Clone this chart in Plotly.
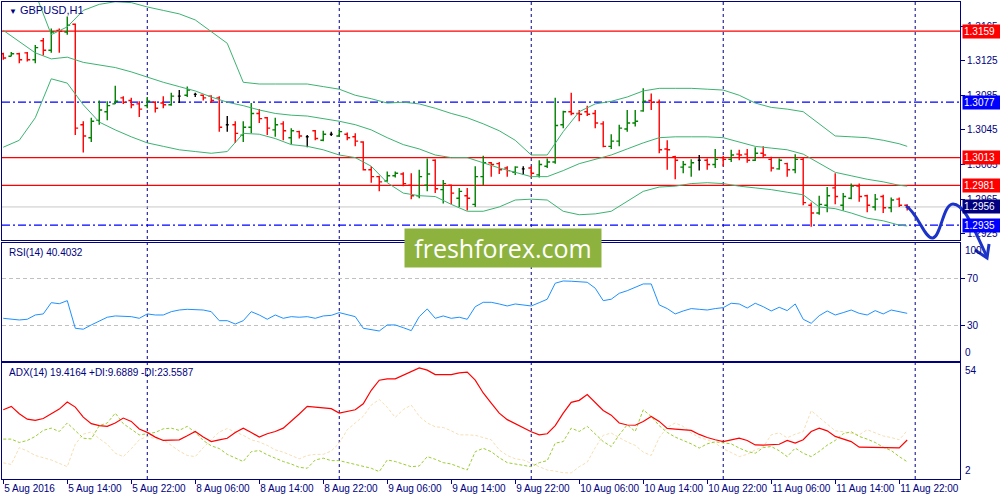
import pandas as pd
import plotly.graph_objects as go

NAVY = "#000080"
FONT = "Liberation Sans, Arial, sans-serif"

# ---------------- data ----------------
symbol_title = "GBPUSD,H1"
rsi_title = "RSI(14) 40.4032"
adx_title = "ADX(14) 19.4164 +DI:9.6889 -DI:23.5587"
watermark = "freshforex.com"

x_tick_labels = ["5 Aug 2016", "5 Aug 14:00", "5 Aug 22:00", "8 Aug 06:00", "8 Aug 14:00",
                 "8 Aug 22:00", "9 Aug 06:00", "9 Aug 14:00", "9 Aug 22:00", "10 Aug 06:00",
                 "10 Aug 14:00", "10 Aug 22:00", "11 Aug 06:00", "11 Aug 14:00", "11 Aug 22:00"]
price_ticks = [1.3165, 1.3125, 1.3085, 1.3045, 1.3005, 1.2965, 1.2925]
rsi_ticks = [70, 30]

open_ = [1.3133, 1.3130, 1.3133, 1.3134, 1.3126, 1.3148, 1.3137, 1.3160, 1.3158, 1.3167,
         1.3051, 1.3036, 1.3056, 1.3066, 1.3075, 1.3082, 1.3079, 1.3075, 1.3073, 1.3077,
         1.3076, 1.3074, 1.3084, 1.3085, 1.3086, 1.3085, 1.3084, 1.3082, 1.3051, 1.3051,
         1.3039, 1.3048, 1.3064, 1.3059, 1.3045, 1.3052, 1.3036, 1.3043, 1.3037, 1.3044,
         1.3033, 1.3040, 1.3038, 1.3040, 1.3037, 1.3031, 1.2999, 1.2991, 1.2986, 1.2992,
         1.2994, 1.2981, 1.2969, 1.2981, 1.3010, 1.2976, 1.2981, 1.2966, 1.2969, 1.2959,
         1.2991, 1.3007, 1.3006, 1.3001, 1.2996, 1.3000, 1.3001, 1.2993, 1.3003, 1.3008,
         1.3051, 1.3066, 1.3064, 1.3066, 1.3064, 1.3052, 1.3026, 1.3032, 1.3046, 1.3053,
         1.3067, 1.3079, 1.3077, 1.3023, 1.3014, 1.3002, 1.3002, 1.3010, 1.3010, 1.3005,
         1.3013, 1.3011, 1.3017, 1.3017, 1.3010, 1.3018, 1.3011, 1.3000, 1.3006, 1.2999,
         1.3011, 1.2958, 1.2949, 1.2958, 1.2978, 1.2958, 1.2966, 1.2980, 1.2969, 1.2956,
         1.2968, 1.2955, 1.2965, 1.2958]
high = [1.3134, 1.3135, 1.3134, 1.3135, 1.3143, 1.3151, 1.3162, 1.3162, 1.3176, 1.3168,
        1.3055, 1.3059, 1.3079, 1.3078, 1.3096, 1.3084, 1.3082, 1.3078, 1.3083, 1.3078,
        1.3084, 1.3088, 1.3091, 1.3095, 1.3088, 1.3086, 1.3085, 1.3084, 1.3061, 1.3055,
        1.3055, 1.3076, 1.3069, 1.3060, 1.3059, 1.3055, 1.3047, 1.3044, 1.3039, 1.3045,
        1.3044, 1.3043, 1.3045, 1.3042, 1.3041, 1.3032, 1.3003, 1.2992, 1.2997, 1.2997,
        1.2996, 1.2995, 1.2999, 1.3012, 1.3011, 1.2987, 1.2982, 1.2978, 1.2978, 1.3003,
        1.3015, 1.3008, 1.3008, 1.3003, 1.3003, 1.3003, 1.3003, 1.3010, 1.3012, 1.3082,
        1.3067, 1.3088, 1.3068, 1.3073, 1.3068, 1.3055, 1.3040, 1.3051, 1.3068, 1.3068,
        1.3093, 1.3087, 1.3080, 1.3033, 1.3015, 1.3009, 1.3011, 1.3016, 1.3012, 1.3023,
        1.3015, 1.3022, 1.3022, 1.3023, 1.3025, 1.3026, 1.3014, 1.3012, 1.3007, 1.3017,
        1.3013, 1.2961, 1.2969, 1.2979, 1.2995, 1.2972, 1.2983, 1.2983, 1.2970, 1.2971,
        1.2970, 1.2967, 1.2967, 1.2959]
low = [1.3126, 1.3130, 1.3122, 1.3124, 1.3122, 1.3131, 1.3134, 1.3134, 1.3155, 1.3039,
       1.3019, 1.3031, 1.3051, 1.3056, 1.3075, 1.3075, 1.3070, 1.3060, 1.3070, 1.3065,
       1.3070, 1.3073, 1.3076, 1.3083, 1.3083, 1.3079, 1.3076, 1.3043, 1.3043, 1.3030,
       1.3031, 1.3041, 1.3053, 1.3039, 1.3037, 1.3033, 1.3028, 1.3035, 1.3025, 1.3033,
       1.3032, 1.3038, 1.3037, 1.3033, 1.3026, 1.2998, 1.2984, 1.2974, 1.2985, 1.2990,
       1.2980, 1.2965, 1.2966, 1.2974, 1.2972, 1.2960, 1.2959, 1.2956, 1.2952, 1.2956,
       1.2981, 1.2991, 1.2994, 1.2991, 1.2993, 1.2993, 1.2990, 1.2990, 1.3001, 1.3006,
       1.3047, 1.3062, 1.3055, 1.3061, 1.3047, 1.3025, 1.3023, 1.3026, 1.3043, 1.3049,
       1.3066, 1.3068, 1.3018, 1.2999, 1.2988, 1.2995, 1.2991, 1.2998, 1.2999, 1.3001,
       1.3003, 1.3008, 1.3010, 1.3007, 1.3009, 1.3013, 1.2997, 1.2999, 1.2991, 1.2995,
       1.2958, 1.2933, 1.2947, 1.2950, 1.2959, 1.2952, 1.2965, 1.2962, 1.2950, 1.2952,
       1.2949, 1.2950, 1.2956, 1.2952]
close = [1.3128, 1.3133, 1.3126, 1.3126, 1.3140, 1.3137, 1.3158, 1.3159, 1.3166, 1.3047,
         1.3038, 1.3055, 1.3068, 1.3073, 1.3078, 1.3077, 1.3074, 1.3069, 1.3078, 1.3070,
         1.3074, 1.3084, 1.3084, 1.3091, 1.3086, 1.3082, 1.3079, 1.3048, 1.3051, 1.3041,
         1.3048, 1.3064, 1.3058, 1.3047, 1.3051, 1.3044, 1.3044, 1.3038, 1.3037, 1.3035,
         1.3040, 1.3040, 1.3043, 1.3036, 1.3032, 1.2999, 1.2991, 1.2985, 1.2992, 1.2995,
         1.2983, 1.2969, 1.2991, 1.2994, 1.2977, 1.2983, 1.2972, 1.2974, 1.2966, 1.2991,
         1.3007, 1.3005, 1.2999, 1.2998, 1.3002, 1.3000, 1.2995, 1.3005, 1.3008, 1.3050,
         1.3066, 1.3064, 1.3063, 1.3063, 1.3053, 1.3026, 1.3032, 1.3047, 1.3053, 1.3055,
         1.3078, 1.3077, 1.3022, 1.3022, 1.3010, 1.3005, 1.3007, 1.3010, 1.3005, 1.3011,
         1.3011, 1.3016, 1.3016, 1.3010, 1.3018, 1.3016, 1.3001, 1.3010, 1.2999, 1.3011,
         1.2961, 1.2949, 1.2959, 1.2969, 1.2968, 1.2968, 1.2980, 1.2968, 1.2958, 1.2965,
         1.2955, 1.2964, 1.2958, 1.2956]

# Bollinger bands, read every second bar (and the last bar)
bb_upper = [1.3296, 1.3260, 1.3203, 1.3155, 1.3164, 1.3183, 1.3190, 1.3193, 1.3192, 1.3187,
            1.3183, 1.3179, 1.3172, 1.3159, 1.3145, 1.3100, 1.3098, 1.3098, 1.3098, 1.3098,
            1.3095, 1.3092, 1.3085, 1.3081, 1.3076, 1.3077, 1.3075, 1.3070, 1.3064, 1.3059,
            1.3052, 1.3044, 1.3033, 1.3016, 1.3016, 1.3043, 1.3066, 1.3075, 1.3078, 1.3083,
            1.3090, 1.3093, 1.3093, 1.3093, 1.3092, 1.3091, 1.3085, 1.3076, 1.3071, 1.3069,
            1.3066, 1.3052, 1.3038, 1.3037, 1.3036, 1.3033, 1.3029, 1.3026]
bb_mid = [1.3160, 1.3147, 1.3134, 1.3127, 1.3129, 1.3123, 1.3120, 1.3117, 1.3112, 1.3106,
          1.3100, 1.3095, 1.3090, 1.3083, 1.3077, 1.3073, 1.3068, 1.3064, 1.3062, 1.3061,
          1.3058, 1.3055, 1.3051, 1.3045, 1.3036, 1.3028, 1.3023, 1.3016, 1.3013, 1.3013,
          1.3007, 1.3001, 1.2996, 1.2991, 1.2991, 1.2998, 1.3006, 1.3011, 1.3016, 1.3023,
          1.3030, 1.3036, 1.3037, 1.3037, 1.3037, 1.3036, 1.3031, 1.3026, 1.3024, 1.3022,
          1.3017, 1.3006, 1.2996, 1.2992, 1.2988, 1.2985, 1.2981, 1.2980]
bb_lower = [1.3025, 1.3033, 1.3059, 1.3104, 1.3099, 1.3074, 1.3054, 1.3045, 1.3037, 1.3030,
            1.3026, 1.3022, 1.3020, 1.3018, 1.3020, 1.3041, 1.3040, 1.3035, 1.3028, 1.3026,
            1.3022, 1.3016, 1.3013, 1.3003, 1.2984, 1.2972, 1.2969, 1.2968, 1.2959, 1.2951,
            1.2951, 1.2956, 1.2964, 1.2965, 1.2964, 1.2951, 1.2947, 1.2948, 1.2951, 1.2963,
            1.2974, 1.2979, 1.2980, 1.2983, 1.2984, 1.2983, 1.2980, 1.2978, 1.2976, 1.2973,
            1.2970, 1.2956, 1.2954, 1.2949, 1.2943, 1.2940, 1.2935, 1.2934]

rsi = [36.2, 35.4, 34.8, 35.4, 39.0, 39.9, 49.4, 48.5, 51.1, 27.8,
       27.0, 30.6, 34.2, 37.1, 38.2, 38.2, 37.6, 36.2, 39.9, 39.0,
       39.0, 41.8, 43.2, 43.8, 43.2, 43.2, 41.8, 34.2, 34.2, 31.4,
       34.2, 41.8, 39.0, 35.4, 39.0, 36.2, 37.6, 37.1, 37.6, 36.2,
       38.2, 38.7, 41.0, 39.0, 37.6, 27.8, 26.4, 25.5, 30.6, 30.6,
       28.3, 25.8, 37.6, 44.1, 36.2, 38.2, 36.2, 37.1, 35.4, 46.0,
       49.7, 49.7, 48.3, 46.6, 48.3, 47.7, 46.6, 49.4, 52.3, 65.8,
       67.7, 67.5, 67.2, 66.6, 61.6, 51.1, 52.3, 57.3, 59.5, 62.1,
       65.2, 65.2, 47.5, 44.4, 39.9, 42.4, 44.4, 43.8, 43.2, 44.4,
       45.2, 48.9, 48.3, 44.9, 48.9, 46.0, 42.4, 45.5, 42.7, 48.3,
       35.4, 32.0, 38.4, 42.4, 39.0, 41.0, 43.2, 40.4, 39.0, 42.7,
       39.9, 43.2, 41.8, 40.4]
adx = [32.9, 34.4, 31.1, 28.7, 28.2, 29.0, 31.1, 33.2, 36.4, 34.1,
       29.6, 26.7, 25.8, 25.5, 27.0, 29.2, 27.7, 24.3, 22.8, 20.7,
       19.2, 19.2, 19.5, 21.3, 23.2, 20.7, 18.7, 19.5, 20.2, 22.8,
       24.7, 22.8, 20.7, 22.2, 23.2, 24.7, 27.7, 31.0, 34.4, 34.0,
       33.7, 33.4, 31.4, 32.0, 32.9, 35.6, 41.6, 46.1, 46.7, 46.7,
       48.3, 50.1, 51.6, 50.6, 48.6, 48.6, 48.6, 49.4, 49.7, 46.1,
       40.4, 35.9, 31.4, 28.5, 26.7, 25.2, 23.1, 21.7, 22.2, 25.8,
       31.4, 36.2, 37.1, 39.7, 36.2, 32.6, 30.5, 27.0, 26.1, 26.0,
       27.7, 29.9, 27.7, 24.6, 24.3, 24.0, 23.7, 21.9, 20.5, 19.5,
       18.7, 19.5, 20.2, 19.2, 17.2, 17.1, 17.2, 17.5, 19.2, 18.0,
       19.5, 23.2, 24.7, 23.5, 21.0, 19.8, 18.7, 16.2, 16.1, 15.9,
       15.9, 15.9, 15.9, 19.4]
plus_di = [19.8, 19.8, 18.3, 19.2, 21.0, 23.7, 24.7, 23.2, 27.0, 23.7,
           20.2, 19.9, 25.8, 27.0, 31.4, 26.7, 24.4, 21.7, 22.2, 22.8,
           24.4, 24.7, 23.7, 25.5, 22.8, 19.2, 16.8, 15.6, 13.0, 11.3,
           9.8, 14.2, 14.7, 12.8, 11.3, 9.8, 8.7, 7.2, 6.8, 10.5,
           11.3, 10.2, 10.2, 9.3, 8.3, 7.5, 6.8, 5.3, 10.5, 9.8,
           8.7, 7.5, 7.8, 12.0, 10.8, 9.3, 8.7, 7.2, 6.0, 14.2,
           15.7, 14.2, 11.5, 9.3, 8.7, 8.1, 7.5, 9.3, 10.2, 18.0,
           18.7, 24.7, 23.2, 25.5, 22.2, 18.7, 16.5, 21.7, 26.2, 23.2,
           32.9, 29.9, 25.8, 22.8, 20.7, 19.2, 17.7, 15.8, 17.7, 18.6,
           18.3, 17.7, 15.8, 14.3, 13.5, 16.0, 16.5, 14.6, 12.0, 15.8,
           13.5, 12.0, 14.3, 17.1, 19.2, 22.2, 23.1, 21.0, 19.8, 18.3,
           16.2, 14.7, 12.0, 9.7]
minus_di = [9.2, 8.5, 16.0, 14.5, 12.5, 11.5, 10.5, 9.0, 7.5, 17.5,
            22.0, 23.0, 20.0, 17.5, 13.5, 12.0, 15.5, 19.5, 21.0, 20.0,
            19.5, 17.0, 14.5, 12.5, 12.0, 16.0, 19.5, 23.0, 24.5, 23.0,
            21.5, 19.5, 18.5, 17.0, 15.0, 14.0, 12.5, 11.0, 12.5, 13.0,
            13.0, 14.5, 18.0, 24.0, 27.0, 30.0, 35.0, 37.5, 34.0, 29.5,
            33.0, 35.0, 30.0, 27.0, 25.3, 25.0, 23.5, 21.7, 21.7, 21.5,
            20.5, 19.5, 15.0, 12.5, 11.0, 10.5, 9.0, 7.4, 6.0, 5.5,
            4.8, 4.7, 7.5, 9.5, 16.0, 21.5, 22.5, 20.5, 18.5, 17.0,
            14.0, 12.5, 20.5, 25.0, 27.0, 25.5, 22.5, 20.5, 19.5, 18.0,
            15.5, 13.8, 12.0, 13.0, 15.0, 16.3, 21.7, 22.6, 20.4, 22.0,
            23.1, 32.5, 29.5, 26.5, 23.5, 23.1, 22.5, 21.7, 24.0, 22.5,
            21.2, 20.5, 19.5, 23.6]

red_levels = [1.3159, 1.3013, 1.2981]
blue_levels = [1.3077, 1.2935]

# ---------------- derived ----------------
all_hours = pd.date_range("2016-08-05 06:00", "2016-08-12 23:00", freq="h")
bar_times = all_hours[all_hours.dayofweek < 5]
n = len(close)
bars = list(range(n))
bb_x = list(range(0, n - 1, 2)) + [n - 1]
x_tick_pos = [k for k in range(n) if k % 8 == 0]
X_MAX = 119.6
day_starts = [k for k, t in enumerate(bar_times) if t.hour == 0 and k < X_MAX]
bid = close[-1]

up = [i for i in bars if close[i] > open_[i]]
down = [i for i in bars if close[i] < open_[i]]
doji = [i for i in bars if close[i] == open_[i]]

fig = go.Figure()

BB_COLOR = "#3CB371"
for band in (bb_upper, bb_mid, bb_lower):
    fig.add_trace(go.Scatter(x=bb_x, y=band, mode="lines", line=dict(color=BB_COLOR, width=1),
                             xaxis="x", yaxis="y", hoverinfo="skip", showlegend=False))


def ohlc(idx, color, tw):
    return go.Ohlc(x=idx, open=[open_[i] for i in idx], high=[high[i] for i in idx],
                   low=[low[i] for i in idx], close=[close[i] for i in idx],
                   increasing=dict(line=dict(color=color, width=1.4)),
                   decreasing=dict(line=dict(color=color, width=1.4)),
                   tickwidth=tw, xaxis="x", yaxis="y", hoverinfo="skip", showlegend=False)


fig.add_trace(ohlc(up, "#008000", 0.36))
fig.add_trace(ohlc(down, "#FF0000", 0.36))
fig.add_trace(ohlc(doji, "#000000", 0.18))

fig.add_trace(go.Scatter(x=bars, y=rsi, mode="lines", line=dict(color="#1E90FF", width=1),
                         xaxis="x2", yaxis="y2", hoverinfo="skip", showlegend=False))

fig.add_trace(go.Scatter(x=bars, y=minus_di, mode="lines", line=dict(color="#F5DEB3", width=1, dash="3px,2px"),
                         xaxis="x3", yaxis="y3", hoverinfo="skip", showlegend=False))
fig.add_trace(go.Scatter(x=bars, y=plus_di, mode="lines", line=dict(color="#9ACD32", width=1, dash="3px,2px"),
                         xaxis="x3", yaxis="y3", hoverinfo="skip", showlegend=False))
fig.add_trace(go.Scatter(x=bars, y=adx, mode="lines", line=dict(color="#FF0000", width=1.2),
                         xaxis="x3", yaxis="y3", hoverinfo="skip", showlegend=False))

shapes = []
for d in day_starts:
    shapes.append(dict(type="line", xref="x", yref="paper", x0=d, x1=d, y0=0, y1=1,
                       line=dict(color=NAVY, width=1, dash="3px,3px"), layer="below"))
shapes.append(dict(type="line", xref="paper", yref="y", x0=0, x1=1, y0=bid, y1=bid,
                   line=dict(color="#C8C8C8", width=1), layer="below"))
for lv in red_levels:
    shapes.append(dict(type="line", xref="paper", yref="y", x0=0, x1=1, y0=lv, y1=lv,
                       line=dict(color="#FF0000", width=1.3), layer="below"))
for lv in blue_levels:
    shapes.append(dict(type="line", xref="paper", yref="y", x0=0, x1=1, y0=lv, y1=lv,
                       line=dict(color="#0000FF", width=1.3, dash="8px,3px,2px,3px"), layer="below"))

# hand drawn forecast arrow (screen pixel sketch converted to paper space)
L_PX, R_PX, T_PX, B_PX = 2, 960, 2, 479


def P(px, py):
    return f"{(px - L_PX) / (R_PX - L_PX):.4f},{(B_PX - py) / (B_PX - T_PX):.4f}"


arrow_path = (f"M {P(906, 206)} C {P(918, 213)} {P(925, 240)} {P(933, 238)} "
              f"C {P(941, 236)} {P(943, 204)} {P(953, 204)} "
              f"C {P(965, 204)} {P(975, 232)} {P(987, 257)}")
head_path = f"M {P(975, 250)} L {P(987, 258)} L {P(989, 244)}"
for pth in (arrow_path, head_path):
    shapes.append(dict(type="path", xref="paper", yref="paper", path=pth,
                       line=dict(color="#1B33C8", width=3), layer="above"))

annotations = [
    dict(text="<span style='font-size:8px'>▼</span> " + symbol_title, xref="paper", yref="paper",
         x=(7 - L_PX) / (R_PX - L_PX), y=(B_PX - 10) / (B_PX - T_PX), xanchor="left", yanchor="middle",
         showarrow=False, font=dict(family=FONT, size=11, color=NAVY)),
    dict(text=rsi_title, xref="paper", yref="y2 domain", x=(7 - L_PX) / (R_PX - L_PX), y=1, yshift=-2,
         xanchor="left", yanchor="top", showarrow=False, font=dict(family=FONT, size=10, color=NAVY)),
    dict(text=adx_title, xref="paper", yref="y3 domain", x=(7 - L_PX) / (R_PX - L_PX), y=1, yshift=-2,
         xanchor="left", yanchor="top", showarrow=False, font=dict(family=FONT, size=10, color=NAVY)),
    dict(text="100", xref="paper", yref="y2 domain", x=1, y=1, xshift=3, xanchor="left", yanchor="top",
         showarrow=False, font=dict(family=FONT, size=10, color=NAVY)),
    dict(text="0", xref="paper", yref="y2 domain", x=1, y=0, xshift=3, yshift=1, xanchor="left", yanchor="bottom",
         showarrow=False, font=dict(family=FONT, size=10, color=NAVY)),
    dict(text="54", xref="paper", yref="y3 domain", x=1, y=1, xshift=3, xanchor="left", yanchor="top",
         showarrow=False, font=dict(family=FONT, size=10, color=NAVY)),
    dict(text="2", xref="paper", yref="y3 domain", x=1, y=0, xshift=3, yshift=1, xanchor="left", yanchor="bottom",
         showarrow=False, font=dict(family=FONT, size=10, color=NAVY)),
    dict(text=watermark, xref="paper", yref="paper", x=(503 - L_PX) / (R_PX - L_PX),
         y=(B_PX - 248) / (B_PX - T_PX), xanchor="center", yanchor="middle", showarrow=False,
         width=196, height=38, bgcolor="#8DB33E", borderpad=0,
         font=dict(family="Open Sans, Noto Sans, sans-serif", size=25, color="white")),
]
box_levels = [(lv, "#FF0000") for lv in red_levels] + [(lv, "#0000FF") for lv in blue_levels] + [(bid, NAVY)]
for lv, col in box_levels:
    annotations.append(dict(text=f"{lv:.4f}", xref="paper", yref="y", x=1, y=lv, xshift=2,
                            xanchor="left", yanchor="middle", showarrow=False, width=35, height=11,
                            bgcolor=col, borderpad=1, align="left",
                            font=dict(family=FONT, size=10, color="white")))

axis_common = dict(showline=True, linecolor=NAVY, linewidth=1, mirror=True, showgrid=False,
                   zeroline=False, automargin=False,
                   tickfont=dict(family=FONT, size=10, color=NAVY), tickcolor=NAVY)

fig.update_layout(
    width=1000, height=500,
    margin=dict(l=L_PX, r=1000 - R_PX, t=T_PX, b=500 - B_PX, autoexpand=False),
    paper_bgcolor="white", plot_bgcolor="rgba(0,0,0,0)",
    showlegend=False, hovermode=False,
    xaxis=dict(axis_common, domain=[0, 1], anchor="y", range=[-0.16, X_MAX],
               showticklabels=False, ticks="", rangeslider=dict(visible=False)),
    xaxis2=dict(axis_common, matches="x", anchor="y2", showticklabels=False, ticks=""),
    xaxis3=dict(axis_common, matches="x", anchor="y3", tickvals=x_tick_pos, ticktext=x_tick_labels,
                ticks="outside", ticklen=4, tickangle=0, ticklabelposition="outside right"),
    yaxis=dict(axis_common, domain=[(B_PX - 240) / (B_PX - T_PX), 1], anchor="x", side="right",
               range=[1.291783, 1.319272], tickvals=price_ticks, tickformat=".4f",
               ticks="outside", ticklen=4),
    yaxis2=dict(axis_common, domain=[(B_PX - 360.5) / (B_PX - T_PX), (B_PX - 242.7) / (B_PX - T_PX)],
                anchor="x2", side="right", range=[0.6, 100], tickvals=rsi_ticks,
                ticks="outside", ticklen=4, showgrid=True, gridcolor="#C0C0C0", griddash="4px,3px", gridwidth=1),
    yaxis3=dict(axis_common, domain=[0, (B_PX - 362.5) / (B_PX - T_PX)], anchor="x3", side="right",
                range=[2, 54], tickvals=[], ticks=""),
    shapes=shapes,
    annotations=annotations,
)

fig.write_html("out.html", config={"displayModeBar": False, "staticPlot": True},
               post_script="document.body.style.margin='0';document.body.style.overflow='hidden';")
